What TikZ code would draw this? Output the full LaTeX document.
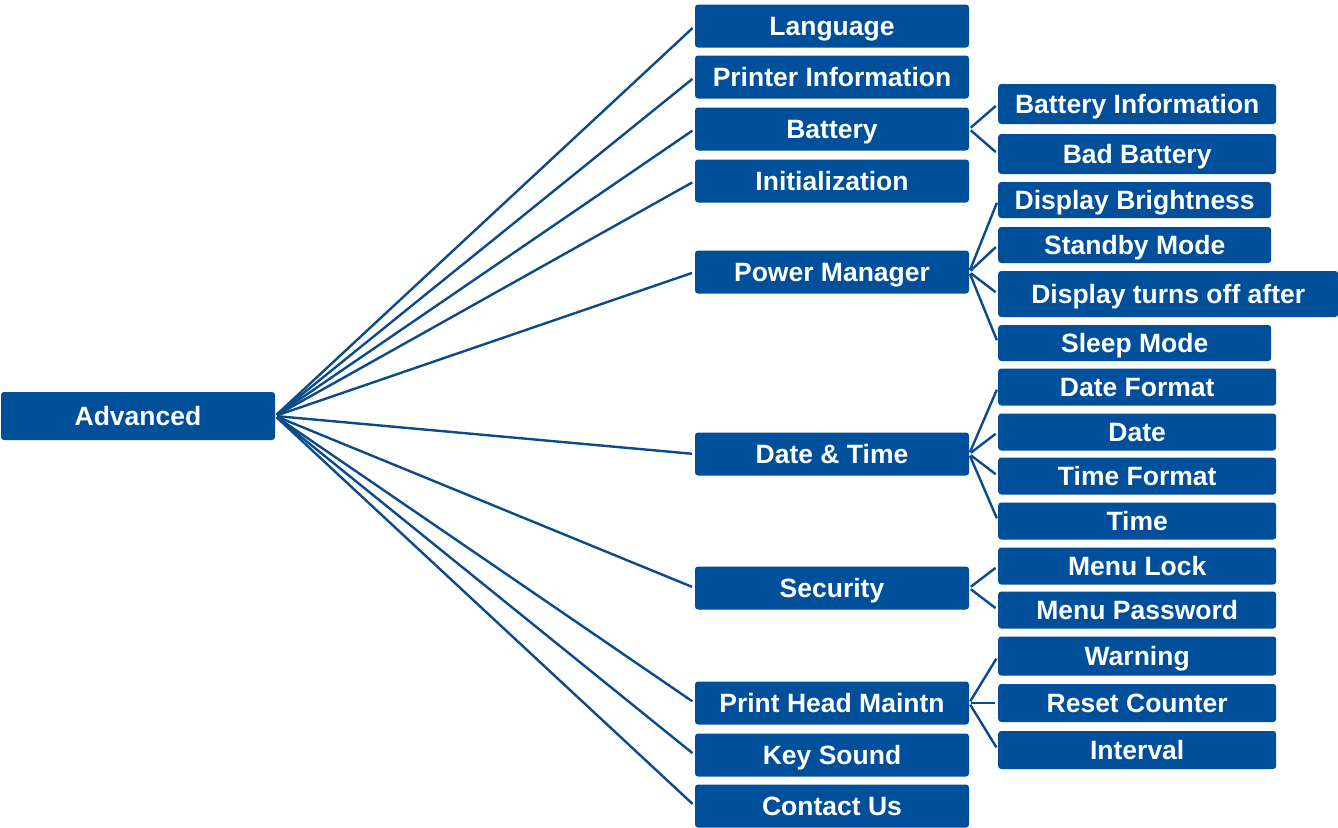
\documentclass[tikz,border=0pt]{standalone}
\usepackage{fontspec}
\setmainfont{Liberation Sans}
\definecolor{mnblue}{HTML}{004F9A}
\definecolor{mnline}{HTML}{0B4A8B}
\usetikzlibrary{positioning}

\begin{document}
\begin{tikzpicture}[x=1pt,y=-1pt]
\tikzset{
 box/.style={fill=mnblue,rounded corners=3pt,text=white,inner sep=0pt,
  font=\fontsize{26.5}{30}\selectfont\bfseries,text height=19pt,text depth=1pt,
  minimum width=274pt,minimum height=43pt},
 sub/.style={box,anchor=west,minimum width=278pt,minimum height=#1},
 link/.style={draw=mnline,line width=2.4pt,shorten <=2pt,shorten >=3pt}
}
\useasboundingbox (0,0) rectangle (1338,827);
% root
\node[box,minimum height=48pt] (adv) at (138,416) {Advanced};
% first level
\node[box] (lang) at (832,26) {Language};
\node[box] (info) at (832,77) {Printer Information};
\node[box] (batt) at (832,129) {Battery};
\node[box] (init) at (832,181) {Initialization};
\node[box] (power) at (832,272) {Power Manager};
\node[box] (date) at (832,454) {Date \& Time};
\node[box] (secu) at (832,588) {Security};
\node[box] (head) at (832,703) {Print Head Maintn};
\node[box] (key) at (832,755) {Key Sound};
\node[box] (contact) at (832,806) {Contact Us};
% second level
\node[sub=40pt] (battinfo) at (998,104) {Battery Information};
\node[sub=40pt] (badbatt) at (998,154) {Bad Battery};
\node[sub=36pt,minimum width=273pt] (bright) at (998,200) {Display Brightness};
\node[sub=36pt,minimum width=273pt] (standby) at (998,245) {Standby Mode};
\node[sub=46pt,minimum width=340pt] (dispoff) at (998,294) {Display turns off after};
\node[sub=36pt,minimum width=273pt] (sleep) at (998,343) {Sleep Mode};
\node[sub=37pt] (datefmt) at (998,387) {Date Format};
\node[sub=37pt] (dateval) at (998,432) {Date};
\node[sub=37pt] (timefmt) at (998,476) {Time Format};
\node[sub=37pt] (timeval) at (998,521) {Time};
\node[sub=37pt] (lock) at (998,566) {Menu Lock};
\node[sub=37pt] (passwd) at (998,610) {Menu Password};
\node[sub=39pt] (warn) at (998,656) {Warning};
\node[sub=38pt] (reset) at (998,703) {Reset Counter};
\node[sub=38pt] (interval) at (998,750) {Interval};
% connectors
\foreach \n in {lang,info,batt,init,power,date,secu,head,key,contact}
 \draw[link] (adv.east) -- (\n.west);
\foreach \n in {battinfo,badbatt}
 \draw[link] (batt.east) -- (\n.west);
\foreach \n in {bright,standby,dispoff,sleep}
 \draw[link] (power.east) -- (\n.west);
\foreach \n in {datefmt,dateval,timefmt,timeval}
 \draw[link] (date.east) -- (\n.west);
\foreach \n in {lock,passwd}
 \draw[link] (secu.east) -- (\n.west);
\foreach \n in {warn,reset,interval}
 \draw[link] (head.east) -- (\n.west);
\end{tikzpicture}
\end{document}
